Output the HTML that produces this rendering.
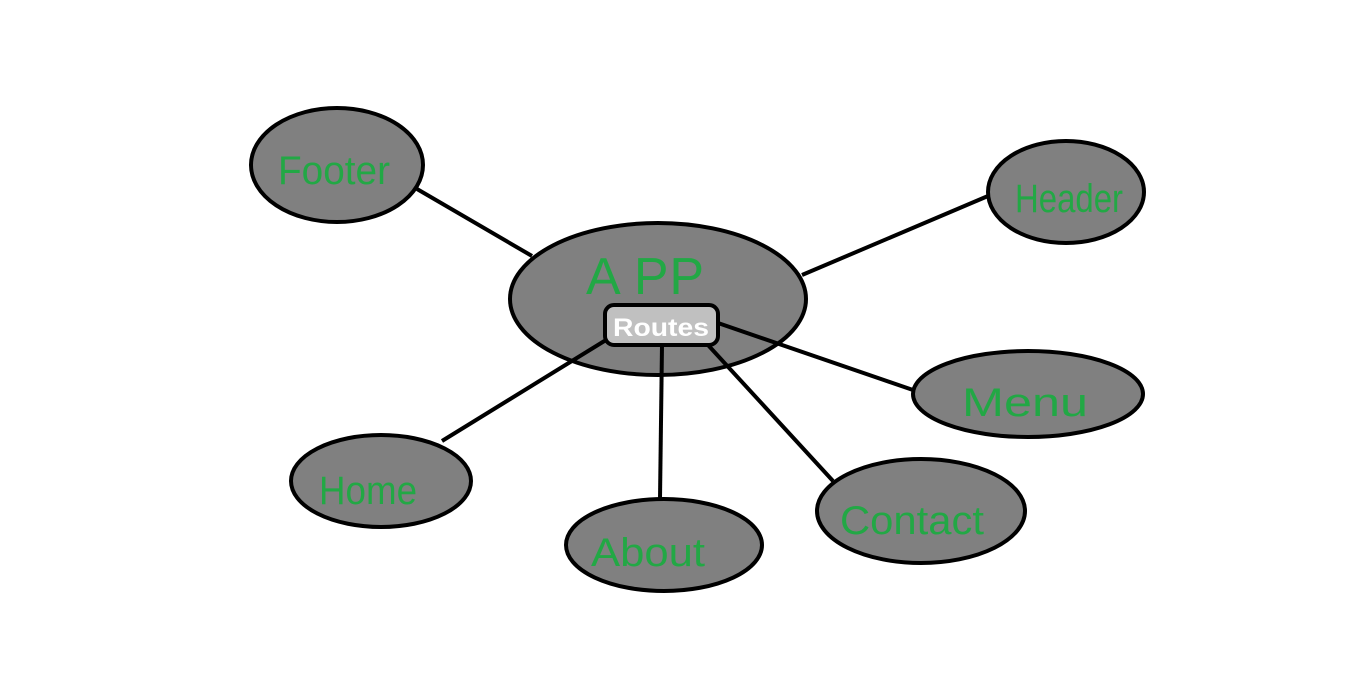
<!DOCTYPE html>
<html><head><style>html,body{margin:0;padding:0;background:#fff;width:1369px;height:681px;overflow:hidden}</style></head>
<body>
<svg width="1369" height="681" xmlns="http://www.w3.org/2000/svg">
<g stroke="#000" stroke-width="4" fill="#808080">
<ellipse cx="658" cy="299" rx="148" ry="76"/>
<line x1="417" y1="189" x2="532" y2="256"/>
<line x1="988" y1="196" x2="802" y2="275"/>
<line x1="718" y1="323" x2="913" y2="390"/>
<line x1="442" y1="441" x2="606" y2="340"/>
<line x1="662" y1="345" x2="660" y2="499"/>
<line x1="708" y1="345" x2="833" y2="481"/>
<ellipse cx="337" cy="165" rx="86" ry="57"/>
<ellipse cx="1066" cy="192" rx="78" ry="51"/>
<ellipse cx="1028" cy="394" rx="115" ry="43"/>
<ellipse cx="381" cy="481" rx="90" ry="46"/>
<ellipse cx="664" cy="545" rx="98" ry="46"/>
<ellipse cx="921" cy="511" rx="104" ry="52"/>
<rect x="605" y="305" width="113" height="40" rx="9" fill="#c0c0c0"/>
</g>
<g font-family="Liberation Sans, sans-serif" fill="#22a845" font-size="40">
<text x="334" y="184" text-anchor="middle" textLength="112" lengthAdjust="spacingAndGlyphs">Footer</text>
<text x="1069" y="212" text-anchor="middle" textLength="108" lengthAdjust="spacingAndGlyphs">Header</text>
<text x="1025" y="416" text-anchor="middle" textLength="126" lengthAdjust="spacingAndGlyphs">Menu</text>
<text x="368" y="504" text-anchor="middle" textLength="98" lengthAdjust="spacingAndGlyphs">Home</text>
<text x="648" y="566" text-anchor="middle" textLength="114" lengthAdjust="spacingAndGlyphs">About</text>
<text x="912" y="534" text-anchor="middle" textLength="144" lengthAdjust="spacingAndGlyphs">Contact</text>
<text x="645" y="294" text-anchor="middle" font-size="52" textLength="118">A PP</text>
</g>
<text x="661" y="336" text-anchor="middle" font-family="Liberation Sans, sans-serif" font-weight="bold" font-size="25" fill="#fff" textLength="96" lengthAdjust="spacingAndGlyphs">Routes</text>
</svg>
</body></html>
